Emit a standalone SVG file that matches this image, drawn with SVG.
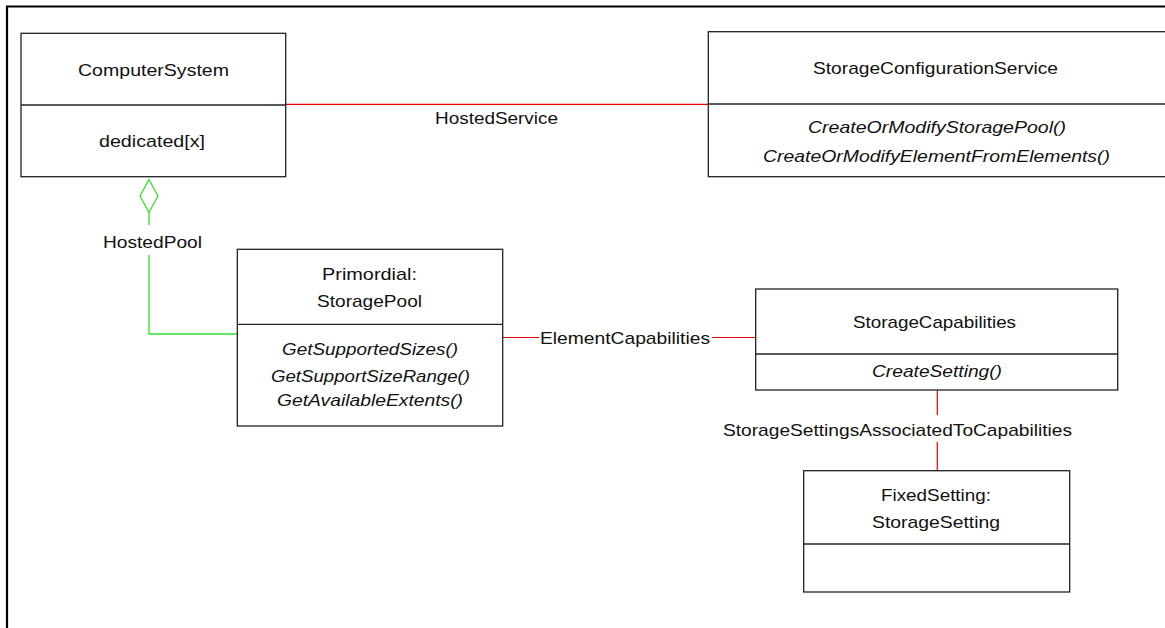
<svg xmlns="http://www.w3.org/2000/svg" width="1165" height="628" viewBox="0 0 1165 628">
<style>
.box{fill:#fff;stroke:#222;stroke-width:1.3}
.div{stroke:#222;stroke-width:1.3}
text{font-family:"Liberation Sans",Arial,sans-serif;font-size:17px;fill:#111;text-anchor:middle}
.it{font-style:italic}
.red{stroke:#e00000;stroke-width:1.2;fill:none}
.grn{stroke:#33dd33;stroke-width:1.3;fill:none}
</style>
<rect width="1165" height="628" fill="#fff"/>
<path d="M7,628 V6.5 H1165" fill="none" stroke="#000" stroke-width="2.2"/>
<g id="connectors">
  <line class="red" x1="286" y1="104.3" x2="708" y2="104.3"/>
  <text x="496.5" y="124" textLength="123" lengthAdjust="spacingAndGlyphs">HostedService</text>
  <polygon class="grn" points="149,179.5 158,196 149,212.5 140,196"/>
  <line class="grn" x1="149" y1="212.5" x2="149" y2="225"/>
  <text x="152.5" y="248" textLength="99" lengthAdjust="spacingAndGlyphs">HostedPool</text>
  <polyline class="grn" points="149,255 149,334 237,334"/>
  <line class="red" x1="503" y1="337.5" x2="539" y2="337.5"/>
  <line class="red" x1="712" y1="337.5" x2="756" y2="337.5"/>
  <text x="625" y="344" textLength="170" lengthAdjust="spacingAndGlyphs">ElementCapabilities</text>
  <line class="red" x1="937.3" y1="390" x2="937.3" y2="415"/>
  <line class="red" x1="937.3" y1="442" x2="937.3" y2="471"/>
  <text x="897.5" y="436" textLength="349" lengthAdjust="spacingAndGlyphs">StorageSettingsAssociatedToCapabilities</text>
</g>
<g id="ComputerSystem">
  <rect class="box" x="21" y="33.3" width="264.7" height="143.4"/>
  <line class="div" x1="21" y1="105" x2="285.7" y2="105"/>
  <text x="153.5" y="76" textLength="151" lengthAdjust="spacingAndGlyphs">ComputerSystem</text>
  <text x="152" y="147" textLength="106" lengthAdjust="spacingAndGlyphs">dedicated[x]</text>
</g>
<g id="StorageConfigurationService">
  <rect class="box" x="708.3" y="31.7" width="460" height="145"/>
  <line class="div" x1="708.3" y1="104" x2="1168" y2="104"/>
  <text x="935.5" y="74" textLength="245" lengthAdjust="spacingAndGlyphs">StorageConfigurationService</text>
  <text class="it" x="937" y="133" textLength="258" lengthAdjust="spacingAndGlyphs">CreateOrModifyStoragePool()</text>
  <text class="it" x="936.5" y="162" textLength="347" lengthAdjust="spacingAndGlyphs">CreateOrModifyElementFromElements()</text>
</g>
<g id="PrimordialStoragePool">
  <rect class="box" x="237.3" y="249.3" width="265.4" height="176.7"/>
  <line class="div" x1="237.3" y1="324.3" x2="502.7" y2="324.3"/>
  <text x="369.5" y="280" textLength="95" lengthAdjust="spacingAndGlyphs">Primordial:</text>
  <text x="369.5" y="307" textLength="105" lengthAdjust="spacingAndGlyphs">StoragePool</text>
  <text class="it" x="370" y="355" textLength="176" lengthAdjust="spacingAndGlyphs">GetSupportedSizes()</text>
  <text class="it" x="370.5" y="382" textLength="199" lengthAdjust="spacingAndGlyphs">GetSupportSizeRange()</text>
  <text class="it" x="370" y="406" textLength="186" lengthAdjust="spacingAndGlyphs">GetAvailableExtents()</text>
</g>
<g id="StorageCapabilities">
  <rect class="box" x="755.7" y="289" width="362" height="101"/>
  <line class="div" x1="755.7" y1="354" x2="1117.7" y2="354"/>
  <text x="934.5" y="327.7" textLength="163" lengthAdjust="spacingAndGlyphs">StorageCapabilities</text>
  <text class="it" x="937" y="376.7" textLength="130" lengthAdjust="spacingAndGlyphs">CreateSetting()</text>
</g>
<g id="FixedSettingStorageSetting">
  <rect class="box" x="803.7" y="470.7" width="266" height="121.3"/>
  <line class="div" x1="803.7" y1="544" x2="1069.7" y2="544"/>
  <text x="936" y="500.7" textLength="110" lengthAdjust="spacingAndGlyphs">FixedSetting:</text>
  <text x="936" y="527.7" textLength="128" lengthAdjust="spacingAndGlyphs">StorageSetting</text>
</g>
</svg>
